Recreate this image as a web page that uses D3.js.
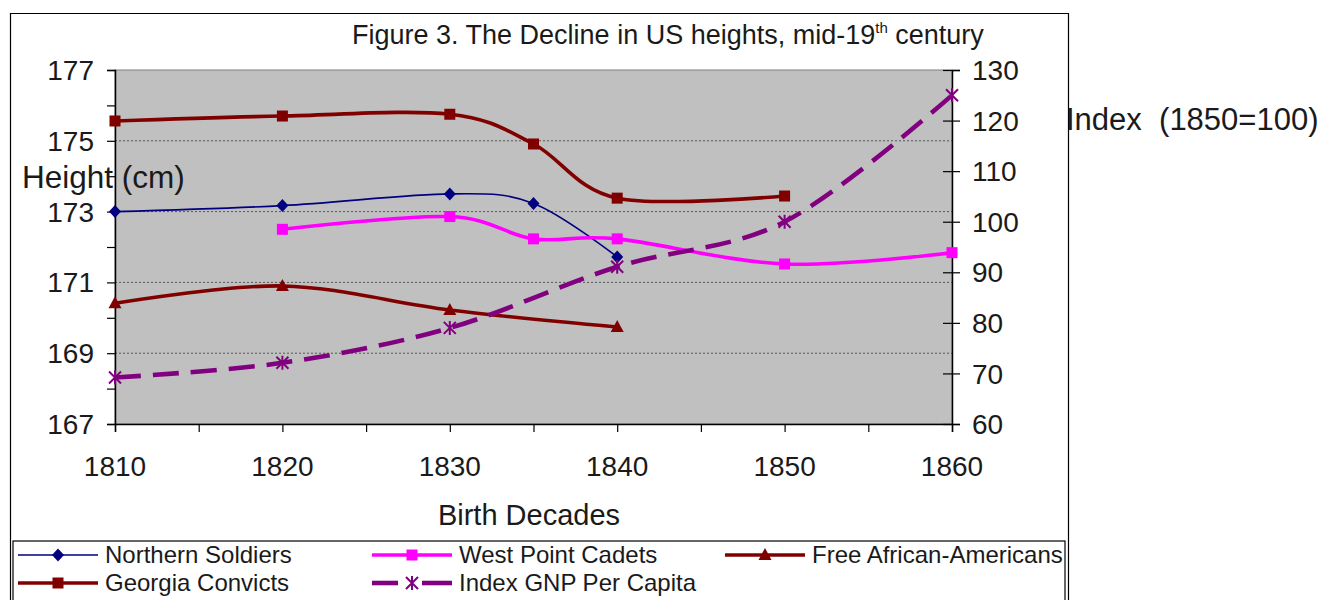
<!DOCTYPE html>
<html><head><meta charset="utf-8">
<script src="https://cdn.jsdelivr.net/npm/d3@7"></script>
<style>
html,body{margin:0;padding:0;background:#fff;}
svg{display:block;font-family:"Liberation Sans",Arial,sans-serif;}
text{fill:#1a1a1a;}
</style></head>
<body>
<svg id="c" width="1327" height="600"></svg>
<script>
// ---- data ----
const northernYears = [1810, 1820, 1830, 1835, 1840];
const northernSoldiers = [173.0, 173.17, 173.5, 173.23, 171.72];
const cadetYears = [1820, 1830, 1835, 1840, 1850, 1860];
const westPointCadets = [172.5, 172.86, 172.23, 172.23, 171.52, 171.84];
const africanYears = [1810, 1820, 1830, 1840];
const freeAfricanAmericans = [170.41, 170.9, 170.22, 169.74];
const georgiaYears = [1810, 1820, 1830, 1835, 1840, 1850];
const georgiaConvicts = [175.56, 175.70, 175.75, 174.91, 173.38, 173.44];
const gnpYears = [1810, 1820, 1830, 1840, 1850, 1860];
const gnpIndex = [69.2, 72.1, 79.0, 91.1, 100, 125.0];

const xTickLabels = [1810, 1820, 1830, 1840, 1850, 1860];
const leftTickLabels = [167, 169, 171, 173, 175, 177];
const rightTickLabels = [60, 70, 80, 90, 100, 110, 120, 130];
const gridValues = [169, 171, 173, 175];

const svg = d3.select("#c");
const L = 115, R = 952, T = 70, B = 424;
const x = d3.scaleLinear().domain([1810, 1860]).range([L, R]);
const yL = d3.scaleLinear().domain([167, 177]).range([B, T]);
const yR = d3.scaleLinear().domain([60, 130]).range([B, T]);

// outer chart frame
svg.append("path").attr("d", "M10.5,605V13.5H1068.5V605")
  .attr("fill", "none").attr("stroke", "#000").attr("stroke-width", 1.2);

// title
const title = svg.append("text").attr("x", 352).attr("y", 44).attr("font-size", 27);
title.append("tspan").text("Figure 3. The Decline in US heights, mid-19");
title.append("tspan").attr("font-size", 15).attr("dy", -11).text("th");
title.append("tspan").attr("dy", 11).text(" century");

// plot area
svg.append("rect").attr("x", L).attr("y", T).attr("width", R - L).attr("height", B - T)
  .attr("fill", "#c0c0c0").attr("stroke", "#808080").attr("stroke-width", 1);

// gridlines
svg.append("g").selectAll("line").data(gridValues).join("line")
  .attr("x1", L).attr("x2", R).attr("y1", d => yL(d)).attr("y2", d => yL(d))
  .attr("stroke", "#555").attr("stroke-width", 1).attr("stroke-dasharray", "2,2");

// axes
const axL = svg.append("g").attr("transform", `translate(${L},0)`)
  .call(d3.axisLeft(yL).tickValues(d3.range(167, 178, 1)).tickSize(8).tickFormat(""));
const axR = svg.append("g").attr("transform", `translate(${R},0)`)
  .call(d3.axisRight(yR).tickValues(rightTickLabels).tickSize(8).tickFormat(""));
axR.selectAll(".tick line").attr("x1", -9).attr("x2", 8);
const axB = svg.append("g").attr("transform", `translate(0,${B})`)
  .call(d3.axisBottom(x).tickValues(d3.range(1810, 1861, 5)).tickSize(8).tickFormat(""));
[axL, axR, axB].forEach(a => {
  a.selectAll(".domain").attr("stroke", "#000").attr("stroke-width", 1.5);
  a.selectAll(".tick line").attr("stroke", "#000").attr("stroke-width", 1.2);
});

// tick labels
svg.append("g").selectAll("text").data(leftTickLabels).join("text")
  .attr("x", 94).attr("y", d => yL(d)).attr("dy", "0.36em")
  .attr("text-anchor", "end").attr("font-size", 28).text(d => d);
svg.append("g").selectAll("text").data(rightTickLabels).join("text")
  .attr("x", 972).attr("y", d => yR(d)).attr("dy", "0.36em")
  .attr("font-size", 28).text(d => d);
svg.append("g").selectAll("text").data(xTickLabels).join("text")
  .attr("x", d => x(d)).attr("y", 476)
  .attr("text-anchor", "middle").attr("font-size", 28).text(d => d);

// axis titles
svg.append("text").attr("x", 529).attr("y", 525).attr("text-anchor", "middle")
  .attr("font-size", 29).text("Birth Decades");
svg.append("text").attr("x", 1066).attr("y", 130).attr("font-size", 31)
  .style("white-space", "pre").text("Index  (1850=100)");

// series
const curve = d3.curveCardinal.tension(0);
const series = [
  {name: "Northern Soldiers", xs: northernYears, ys: northernSoldiers, sc: yL, color: "#000080", w: 1.6, dash: null, marker: "diamond"},
  {name: "West Point Cadets", xs: cadetYears, ys: westPointCadets, sc: yL, color: "#ff00ff", w: 3.6, dash: null, marker: "square"},
  {name: "Free African-Americans", xs: africanYears, ys: freeAfricanAmericans, sc: yL, color: "#800000", w: 3.6, dash: null, marker: "triangle"},
  {name: "Georgia Convicts", xs: georgiaYears, ys: georgiaConvicts, sc: yL, color: "#800000", w: 3.6, dash: null, marker: "square"},
  {name: "Index GNP Per Capita", xs: gnpYears, ys: gnpIndex, sc: yR, color: "#800080", w: 4.6, dash: "26,12", marker: "star"}
];

function drawMarker(g, type, cx, cy, color) {
  if (type === "diamond") {
    g.append("path").attr("d", `M${cx},${cy-6.5}L${cx+6},${cy}L${cx},${cy+6.5}L${cx-6},${cy}Z`).attr("fill", color);
  } else if (type === "square") {
    g.append("rect").attr("x", cx - 5.5).attr("y", cy - 5.5).attr("width", 11).attr("height", 11).attr("fill", color);
  } else if (type === "triangle") {
    g.append("path").attr("d", `M${cx},${cy-7}L${cx+6.5},${cy+5}L${cx-6.5},${cy+5}Z`).attr("fill", color);
  } else if (type === "star") {
    g.append("path").attr("d", `M${cx-6},${cy-6}L${cx+6},${cy+6}M${cx+6},${cy-6}L${cx-6},${cy+6}M${cx},${cy-7}L${cx},${cy+7}`)
      .attr("stroke", color).attr("stroke-width", 2).attr("fill", "none");
  }
}

const gs = svg.append("g");
series.forEach(s => {
  const pts = s.xs.map((v, i) => [x(v), s.sc(s.ys[i])]);
  const line = d3.line().curve(curve);
  const p = gs.append("path").attr("d", line(pts)).attr("fill", "none")
    .attr("stroke", s.color).attr("stroke-width", s.w).attr("stroke-linejoin", "round");
  if (s.dash) p.attr("stroke-dasharray", s.dash);
});
series.forEach(s => {
  const g = gs.append("g");
  s.xs.forEach((v, i) => drawMarker(g, s.marker, x(v), s.sc(s.ys[i]), s.color));
});

// y title on top of plot
svg.append("text").attr("x", 22).attr("y", 188).attr("font-size", 31.5).text("Height (cm)");

// legend
svg.append("rect").attr("x", 13).attr("y", 541).attr("width", 1052).attr("height", 70)
  .attr("fill", "#fff").attr("stroke", "#000").attr("stroke-width", 1.2);
const legendPos = [
  {s: 0, x: 18, y: 555}, {s: 1, x: 372, y: 555}, {s: 2, x: 725, y: 555},
  {s: 3, x: 18, y: 583}, {s: 4, x: 372, y: 583}
];
legendPos.forEach(lp => {
  const s = series[lp.s];
  const g = svg.append("g");
  if (s.dash) {
    [[0, 26], [50, 80]].forEach(seg => {
      g.append("line").attr("x1", lp.x + seg[0]).attr("x2", lp.x + seg[1]).attr("y1", lp.y).attr("y2", lp.y)
        .attr("stroke", s.color).attr("stroke-width", s.w);
    });
  } else {
    g.append("line").attr("x1", lp.x).attr("x2", lp.x + 80).attr("y1", lp.y).attr("y2", lp.y)
      .attr("stroke", s.color).attr("stroke-width", s.w);
  }
  drawMarker(g, s.marker, lp.x + 40, lp.y, s.color);
  g.append("text").attr("x", lp.x + 87).attr("y", lp.y + 8).attr("font-size", 24).text(s.name);
});
</script>
</body></html>
